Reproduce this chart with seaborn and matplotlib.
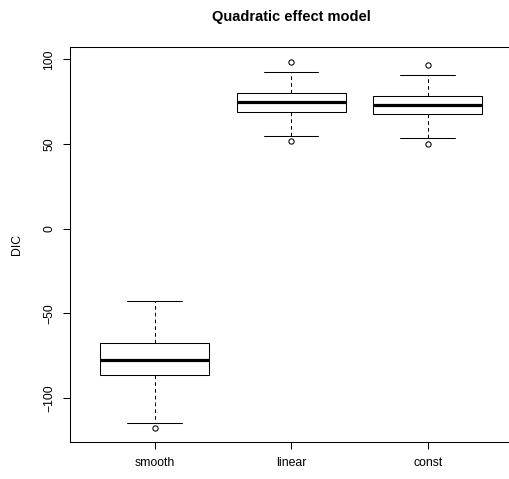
import numpy as np
import pandas as pd
import matplotlib
matplotlib.use("Agg")
import matplotlib.pyplot as plt
import seaborn as sns

# ---- data (box statistics) ----
models = ["smooth", "linear", "const"]
low_outlier = [-117.7, 51.8, 49.8]
low_whisker = [-114.6, 54.9, 53.7]
q1 = [-86.6, 69.2, 67.5]
median = [-77.7, 74.7, 73.1]
q3 = [-67.7, 80.4, 78.6]
high_whisker = [-42.5, 92.8, 91.0]
high_outlier = [None, 98.4, 96.5]
yticks = [-100, -50, 0, 50, 100]

# build a long table whose quartiles / whiskers reproduce those statistics
rows = []
for i, m in enumerate(models):
    vals = [low_outlier[i], low_whisker[i], q1[i], q1[i], median[i],
            q3[i], q3[i], high_whisker[i],
            high_outlier[i] if high_outlier[i] is not None else high_whisker[i]]
    for v in vals:
        rows.append({"model": m, "DIC": v})
df = pd.DataFrame(rows)

sns.set_style("white")
plt.rcParams["font.family"] = ["Liberation Sans", "DejaVu Sans"]

fig = plt.figure(figsize=(5.1, 4.79), dpi=100)
ax = fig.add_axes([70 / 510, 1 - 442 / 479, 443 / 510, (442 - 46.7) / 479])

sns.boxplot(data=df, x="model", y="DIC", order=models, ax=ax,
            color="white", linecolor="black", linewidth=0.75, width=0.8,
            whis=1.5, fliersize=3.8,
            whiskerprops=dict(linestyle=(0, (3.5, 3))),
            medianprops=dict(linewidth=2.3),
            flierprops=dict(marker="o", markerfacecolor="white",
                            markeredgecolor="black", markeredgewidth=0.75))

# make sure medians are thick
for line in ax.lines:
    yd = line.get_ydata()
    if len(yd) == 2 and yd[0] == yd[1] and any(abs(yd[0] - m) < 1e-9 for m in median):
        line.set_linewidth(2.3)

ax.set_xlim(-0.62, 2.625)
ax.set_ylim(-126.0, 107.5)
ax.set_yticks(yticks)
ax.set_yticklabels([str(t).replace("-", "\u2212") for t in yticks],
                   rotation=90, va="center")
ax.set_xlabel("")
ax.set_ylabel("")

for s in ax.spines.values():
    s.set_visible(True)
    s.set_color("black")
    s.set_linewidth(0.75)
# the frame's right side lies just beyond the image edge in the reference
ax.spines["right"].set_visible(False)

ax.tick_params(axis="both", which="both", direction="out", length=5.2,
               width=0.75, color="black", labelsize=8.8, labelcolor="black",
               left=True, bottom=True)
ax.tick_params(axis="y", pad=5.5)
ax.tick_params(axis="x", pad=5.5)

fig.text(17 / 510, 1 - 244 / 479, "DIC", rotation=90, ha="center", va="center",
         fontsize=8.8, color="black")
fig.text(291 / 510, 1 - 17 / 479, "Quadratic effect model", ha="center",
         va="center", fontsize=10.5, fontweight="bold", color="black")

fig.savefig("out.png", dpi=100, facecolor="white")
